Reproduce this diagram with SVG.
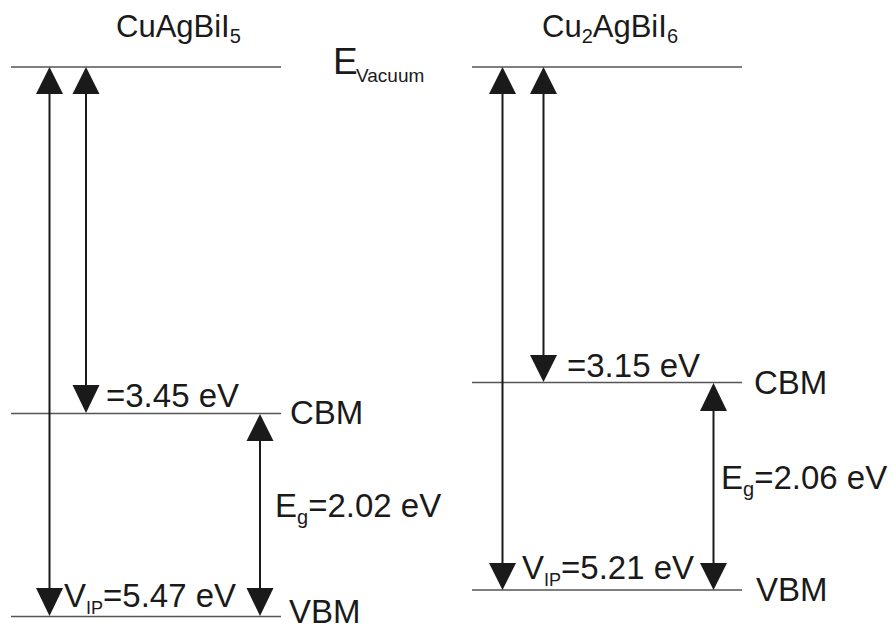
<svg xmlns="http://www.w3.org/2000/svg" width="893" height="630" viewBox="0 0 893 630">
<style>
.lvl{stroke:#555;stroke-width:1.3;fill:none}
.ar{stroke:#1a1a1a;stroke-width:2;fill:none}
.hd{fill:#1a1a1a}
text{font-family:"Liberation Sans",Arial,sans-serif;fill:#1a1a1a}
.t{font-size:31px}
.l{font-size:33px}
.s{font-size:20px}
</style>
<rect width="893" height="630" fill="#fff"/>
<g id="levels">
<line class="lvl" x1="11" y1="67" x2="281" y2="67"/>
<line class="lvl" x1="11" y1="413.5" x2="281" y2="413.5"/>
<line class="lvl" x1="11" y1="616.5" x2="281" y2="616.5"/>
<line class="lvl" x1="472" y1="67" x2="742" y2="67"/>
<line class="lvl" x1="472" y1="382.5" x2="742" y2="382.5"/>
<line class="lvl" x1="472" y1="590" x2="742" y2="590"/>
</g>
<g id="connectors">
<line class="ar" x1="49.5" y1="90" x2="49.5" y2="592"/>
<polygon class="hd" points="49.5,67 36,94 63,94"/>
<polygon class="hd" points="49.5,616 36,588 63,588"/>
<line class="ar" x1="86" y1="90" x2="86" y2="390"/>
<polygon class="hd" points="86,67 72.5,94 99.5,94"/>
<polygon class="hd" points="86,413 72.5,385 99.5,385"/>
<line class="ar" x1="260" y1="437" x2="260" y2="592"/>
<polygon class="hd" points="260,414 246.5,441 273.5,441"/>
<polygon class="hd" points="260,616 246.5,588 273.5,588"/>
<line class="ar" x1="502.5" y1="90" x2="502.5" y2="567"/>
<polygon class="hd" points="502.5,67 489,94 516,94"/>
<polygon class="hd" points="502.5,590 489,563 516,563"/>
<line class="ar" x1="543.5" y1="90" x2="543.5" y2="360"/>
<polygon class="hd" points="543.5,67 530,94 557,94"/>
<polygon class="hd" points="543.5,382 530,355 557,355"/>
<line class="ar" x1="713.5" y1="406" x2="713.5" y2="567"/>
<polygon class="hd" points="713.5,383 700,411 727,411"/>
<polygon class="hd" points="713.5,590 700,563 727,563"/>
</g>
<g id="labels">
<text class="t" x="116" y="37">CuAgBiI<tspan class="s" dy="6">5</tspan></text>
<text class="t" x="542" y="37">Cu<tspan class="s" dy="6">2</tspan><tspan dy="-6">AgBiI</tspan><tspan class="s" dy="6">6</tspan></text>
<text x="333" y="74" style="font-size:37px">E</text>
<text x="356" y="82" style="font-size:19px">Vacuum</text>
<text class="l" x="106" y="407">=3.45 eV</text>
<text class="l" x="290" y="424">CBM</text>
<text class="l" x="275" y="517">E<tspan class="s" dy="7">g</tspan><tspan dy="-7">=2.02 eV</tspan></text>
<text class="l" x="64" y="607">V<tspan style="font-size:18px" dy="7">IP</tspan><tspan dy="-7">=5.47 eV</tspan></text>
<text class="l" x="289" y="623">VBM</text>
<text class="l" x="567" y="377">=3.15 eV</text>
<text class="l" x="754" y="394">CBM</text>
<text class="l" x="721" y="489">E<tspan class="s" dy="7">g</tspan><tspan dy="-7">=2.06 eV</tspan></text>
<text class="l" x="522" y="579">V<tspan style="font-size:18px" dy="7">IP</tspan><tspan dy="-7">=5.21 eV</tspan></text>
<text class="l" x="756" y="601">VBM</text>
</g>
</svg>
